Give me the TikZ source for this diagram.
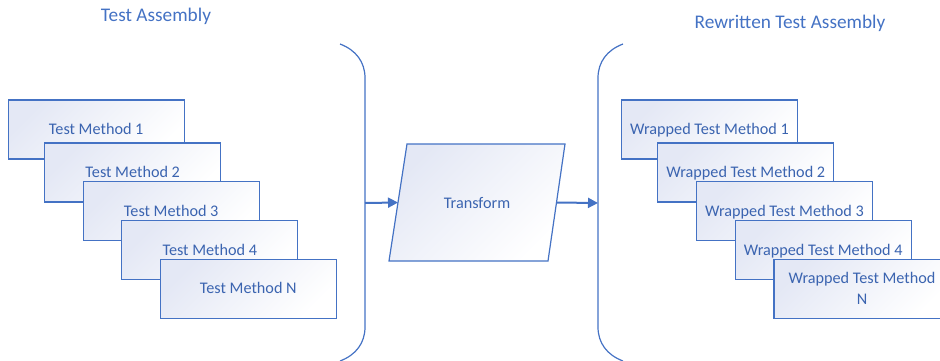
\documentclass[tikz,border=0pt]{standalone}
\usepackage{fontspec}
\setmainfont{Carlito}
\usetikzlibrary{arrows.meta,calc}

\definecolor{edgeblue}{HTML}{4472C4}
\definecolor{labelblue}{HTML}{3B64B0}
\definecolor{shadeblue}{RGB}{228,232,245}

\tikzset{
  boxbase/.style={draw=edgeblue, line width=1.2pt,
    top color=shadeblue, bottom color=white, shading angle=45,
    minimum width=176pt, minimum height=59pt, inner sep=0pt,
    align=center, text=labelblue, font=\fontsize{16.2}{21}\selectfont},
  onebox/.style={boxbase, text height=10.2pt, text depth=0pt},
  tfshape/.style={draw=edgeblue, line width=1.2pt,
    top color=shadeblue, bottom color=white, shading angle=45},
  bracket/.style={draw=edgeblue, line width=1.2pt},
  flow/.style={draw=edgeblue, line width=2pt, -{Triangle[length=10pt,width=10pt]}},
  heading/.style={text=edgeblue, font=\fontsize{19.3}{23}\selectfont, anchor=base, inner sep=0pt},
}

\begin{document}
\begin{tikzpicture}[x=1pt,y=-1pt]
\useasboundingbox (0,0) rectangle (940,360);

% headings
\node[heading] (lefthead) at (156,21.5) {Test Assembly};
\node[heading] (righthead) at (790,28) {Rewritten Test Assembly};

% input methods (stacked)
\node[onebox] (m1) at (96.2,129.5) {Test Method 1};
\node[onebox] (m2) at (132.7,172.5) {Test Method 2};
\node[onebox] (m3) at (171.2,211.2) {Test Method 3};
\node[onebox] (m4) at (209.8,250.2) {Test Method 4};
\node[onebox] (mN) at (248.3,288.8) {Test Method N};

% wrapped methods (stacked)
\node[onebox] (w1) at (709.5,129.5) {Wrapped Test Method 1};
\node[onebox] (w2) at (745.8,172.5) {Wrapped Test Method 2};
\node[onebox] (w3) at (784.5,211.2) {Wrapped Test Method 3};
\node[onebox] (w4) at (823.2,250.2) {Wrapped Test Method 4};
\node[boxbase] (wN) at (862,288.8) {Wrapped Test Method\\N};

% assembly brackets
\draw[bracket] (340,44) .. controls (356,50) and (365,62) .. (365,78)
  -- (365,327) .. controls (365,343) and (356,355) .. (340,361);
\draw[bracket] (623,44) .. controls (607,50) and (598,62) .. (598,78)
  -- (598,327) .. controls (598,343) and (607,355) .. (623,361);
\coordinate (lin) at (365,203);
\coordinate (rout) at (598,203);

% transform step
\coordinate (pTL) at (407,144);
\coordinate (pTR) at (565,144);
\coordinate (pBR) at (548,261);
\coordinate (pBL) at (389,261);
\path[tfshape] (pTL) -- (pTR) -- (pBR) -- (pBL) -- cycle;
\node[text=labelblue, font=\fontsize{16.2}{21}\selectfont, text height=10.2pt, text depth=0pt] (tf) at (477,203) {Transform};
\coordinate (tfin) at ($(pTL)!0.5!(pBL)$);
\coordinate (tfout) at ($(pTR)!0.5!(pBR)$);

% flow arrows
\draw[flow] (lin) -- (tfin);
\draw[flow] (tfout) -- (rout);
\end{tikzpicture}
\end{document}
